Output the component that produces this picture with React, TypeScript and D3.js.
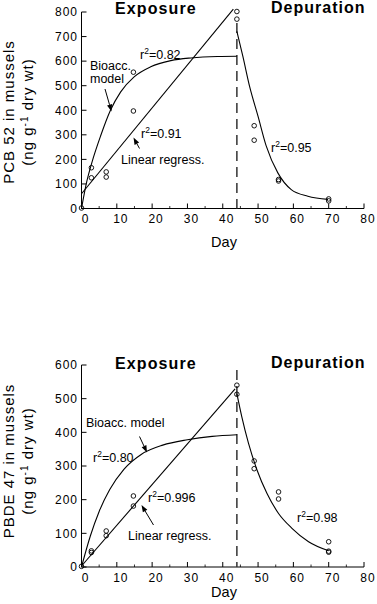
import React from "react";
import * as d3 from "d3";

// ---------- data ----------
const X_TICKS = [0, 10, 20, 30, 40, 50, 60, 70, 80];
const X_MINOR = [5, 15, 25, 35, 45, 55, 65, 75];
const PCB_TICKS = [0, 100, 200, 300, 400, 500, 600, 700, 800];
const PBDE_TICKS = [0, 100, 200, 300, 400, 500, 600];
const SWITCH_DAY = 44;

// PCB 52 measured points
const PCB_POINT_DAYS = [0, 2.8, 2.8, 7, 7, 14.7, 14.7, 44, 44, 48.9, 48.9, 55.8, 55.8, 70, 70];
const PCB_POINT_VALUES = [2, 166, 125, 149, 128, 555, 397, 802, 771, 337, 278, 118, 112, 39, 31];
// PCB 52 bioaccumulation model curve
const PCB_BIOACC_DAYS = [0, 1.5, 3, 5.4, 8.2, 11.1, 14.9, 19.6, 25.3, 31, 38.5, 44];
const PCB_BIOACC_VALUES = [0, 110, 190, 295, 400, 475, 536, 577, 602, 613, 619, 620];
// PCB 52 linear regression
const PCB_LINEAR_DAYS = [0, 43];
const PCB_LINEAR_VALUES = [60, 812];
// PCB 52 depuration curve
const PCB_DEP_DAYS = [44, 45.7, 47.6, 50, 52.3, 55.6, 59.4, 64.1, 69.8];
const PCB_DEP_VALUES = [721, 619, 497, 375, 255, 145, 77, 50, 37];

// PBDE 47 measured points
const PBDE_POINT_DAYS = [0, 2.8, 2.8, 7, 7, 14.7, 14.7, 44, 44, 48.9, 48.9, 55.8, 55.8, 70, 70, 70];
const PBDE_POINT_VALUES = [2, 48, 43, 107, 93, 211, 181, 540, 513, 315, 292, 223, 202, 75, 47, 44];
// PBDE 47 bioaccumulation model curve
const PBDE_BIOACC_DAYS = [0, 2.5, 5, 8, 12, 17, 23, 30, 37, 44];
const PBDE_BIOACC_VALUES = [0, 92, 165, 230, 290, 335, 362, 378, 388, 393];
// PBDE 47 linear regression
const PBDE_LINEAR_DAYS = [0, 43.5];
const PBDE_LINEAR_VALUES = [3, 529];
// PBDE 47 depuration curve
const PBDE_DEP_DAYS = [44, 45.4, 47.3, 49.7, 52.5, 55.8, 59.6, 64.3, 70];
const PBDE_DEP_VALUES = [515, 446, 367, 288, 219, 159, 115, 75, 48];

const FONT = "'Liberation Sans', Arial, Helvetica, sans-serif";

type Arrow = { x1: number; y1: number; x2: number; y2: number };
type Label = { x: number; y: number; text: string; r2?: string };

function ArrowMark({ a }: { a: Arrow }) {
  const ang = Math.atan2(a.y2 - a.y1, a.x2 - a.x1);
  const L = 7;
  const W = 2.6;
  const bx = a.x2 - L * Math.cos(ang);
  const by = a.y2 - L * Math.sin(ang);
  const px = -Math.sin(ang) * W;
  const py = Math.cos(ang) * W;
  return (
    <g>
      <line x1={a.x1} y1={a.y1} x2={bx} y2={by} stroke="#000" strokeWidth={1} />
      <polygon
        points={`${a.x2},${a.y2} ${bx + px},${by + py} ${bx - px},${by - py}`}
        fill="#000"
      />
    </g>
  );
}

function R2Text({ l }: { l: Label }) {
  return (
    <text x={l.x} y={l.y} fontSize={12.5} fontFamily={FONT}>
      r<tspan dy={-5} fontSize={8.5}>2</tspan>
      <tspan dy={5}>={l.r2}</tspan>
    </text>
  );
}

type PanelProps = {
  yTicks: number[];
  yTop: number;
  yBottom: number;
  pointDays: number[];
  pointValues: number[];
  bioDays: number[];
  bioValues: number[];
  linDays: number[];
  linValues: number[];
  depDays: number[];
  depValues: number[];
  title1: string;
  titleCenterY: number;
  exposureY: number;
  depurationY: number;
  dayY: number;
  tickLabelY: number;
  dashTop: number;
  texts: Label[];
  r2s: Label[];
  arrows: Arrow[];
};

function Panel(p: PanelProps) {
  const x = d3.scaleLinear().domain([0, 80]).range([81.5, 364]);
  const yMax = p.yTicks[p.yTicks.length - 1];
  const y = d3.scaleLinear().domain([0, yMax]).range([p.yBottom, p.yTop]);
  const line = d3
    .line<[number, number]>()
    .x((d) => x(d[0]))
    .y((d) => y(d[1]))
    .curve(d3.curveMonotoneX);
  const straight = d3
    .line<[number, number]>()
    .x((d) => x(d[0]))
    .y((d) => y(d[1]));
  const zip = (a: number[], b: number[]) => a.map((v, i) => [v, b[i]] as [number, number]);
  const x0 = x(0);
  return (
    <g fontFamily={FONT}>
      {/* y axis */}
      <line x1={x0} y1={y(yMax)} x2={x0} y2={y(0)} stroke="#000" strokeWidth={1} />
      {p.yTicks.map((t) => (
        <g key={"y" + t}>
          <line x1={x0} x2={x0 + 5} y1={y(t)} y2={y(t)} stroke="#000" strokeWidth={1} />
          <text
            x={78}
            y={y(t) + 4.3}
            textAnchor="end"
            fontSize={12}
            letterSpacing={1}
          >
            {t}
          </text>
        </g>
      ))}
      {/* x axis */}
      <line x1={x0} x2={x(80)} y1={y(0)} y2={y(0)} stroke="#000" strokeWidth={1} />
      {X_TICKS.map((t) => (
        <g key={"x" + t}>
          <line x1={x(t)} x2={x(t)} y1={y(0)} y2={y(0) - 5} stroke="#000" strokeWidth={1} />
          <text x={x(t) + 4} y={p.tickLabelY} textAnchor="middle" fontSize={12} letterSpacing={1}>
            {t}
          </text>
        </g>
      ))}
      {X_MINOR.map((t) => (
        <line key={"m" + t} x1={x(t)} x2={x(t)} y1={y(0)} y2={y(0) - 2.5} stroke="#000" strokeWidth={0.8} />
      ))}
      <text x={224} y={p.dayY} textAnchor="middle" fontSize={14.5}>
        Day
      </text>
      {/* y title */}
      <g transform={`translate(13.5, ${p.titleCenterY}) rotate(-90)`}>
        <text x={0} y={0} textAnchor="middle" fontSize={15} letterSpacing={1}>
          {p.title1}
        </text>
      </g>
      <g transform={`translate(33, ${p.titleCenterY}) rotate(-90)`}>
        <text x={0} y={0} textAnchor="middle" fontSize={15} letterSpacing={1}>
          (ng g<tspan dy={-5} fontSize={10}>-1</tspan>
          <tspan dy={5}> dry wt)</tspan>
        </text>
      </g>
      {/* section titles */}
      <text x={115} y={p.exposureY} fontSize={16} fontWeight="bold" letterSpacing={1.1}>
        Exposure
      </text>
      <text x={271} y={p.depurationY} fontSize={16} fontWeight="bold" letterSpacing={1}>
        Depuration
      </text>
      {/* dashed divider */}
      <line
        x1={x(SWITCH_DAY)}
        x2={x(SWITCH_DAY)}
        y1={p.dashTop}
        y2={y(0)}
        stroke="#333"
        strokeWidth={1.5}
        strokeDasharray="10,6"
      />
      {/* curves */}
      <path d={line(zip(p.bioDays, p.bioValues)) || ""} fill="none" stroke="#000" strokeWidth={1.1} />
      <path d={straight(zip(p.linDays, p.linValues)) || ""} fill="none" stroke="#000" strokeWidth={1.1} />
      <path d={line(zip(p.depDays, p.depValues)) || ""} fill="none" stroke="#000" strokeWidth={1.1} />
      {/* points */}
      {p.pointDays.map((d, i) => (
        <circle
          key={"p" + i}
          cx={x(d)}
          cy={y(p.pointValues[i])}
          r={2.3}
          fill="none"
          stroke="#000"
          strokeWidth={0.9}
        />
      ))}
      {/* annotations */}
      {p.texts.map((t, i) => (
        <text key={"t" + i} x={t.x} y={t.y} fontSize={12.5}>
          {t.text}
        </text>
      ))}
      {p.r2s.map((t, i) => (
        <R2Text key={"r" + i} l={t} />
      ))}
      {p.arrows.map((a, i) => (
        <ArrowMark key={"a" + i} a={a} />
      ))}
    </g>
  );
}

export default function App() {
  return (
    <div style={{ position: "absolute", left: 0, top: 0 }}>
      <svg width={377} height={604} style={{ display: "block", background: "#fff" }}>
        <Panel
          yTicks={PCB_TICKS}
          yTop={12}
          yBottom={208.5}
          pointDays={PCB_POINT_DAYS}
          pointValues={PCB_POINT_VALUES}
          bioDays={PCB_BIOACC_DAYS}
          bioValues={PCB_BIOACC_VALUES}
          linDays={PCB_LINEAR_DAYS}
          linValues={PCB_LINEAR_VALUES}
          depDays={PCB_DEP_DAYS}
          depValues={PCB_DEP_VALUES}
          title1="PCB 52 in mussels"
          titleCenterY={112}
          exposureY={14}
          depurationY={12.5}
          dayY={247}
          tickLabelY={223}
          dashTop={23}
          texts={[
            { x: 90, y: 69.5, text: "Bioacc." },
            { x: 90, y: 83, text: "model" },
            { x: 121, y: 164, text: "Linear regress." },
          ]}
          r2s={[
            { x: 140, y: 59, text: "", r2: "0.82" },
            { x: 141, y: 137.5, text: "", r2: "0.91" },
            { x: 271, y: 152, text: "", r2: "0.95" },
          ]}
          arrows={[
            { x1: 105, y1: 89, x2: 111.5, y2: 111.5 },
            { x1: 139.5, y1: 148.5, x2: 133.5, y2: 137.5 },
          ]}
        />
        <Panel
          yTicks={PBDE_TICKS}
          yTop={365}
          yBottom={567}
          pointDays={PBDE_POINT_DAYS}
          pointValues={PBDE_POINT_VALUES}
          bioDays={PBDE_BIOACC_DAYS}
          bioValues={PBDE_BIOACC_VALUES}
          linDays={PBDE_LINEAR_DAYS}
          linValues={PBDE_LINEAR_VALUES}
          depDays={PBDE_DEP_DAYS}
          depValues={PBDE_DEP_VALUES}
          title1="PBDE 47 in mussels"
          titleCenterY={461}
          exposureY={369}
          depurationY={368}
          dayY={597}
          tickLabelY={582}
          dashTop={370}
          texts={[
            { x: 86, y: 426.5, text: "Bioacc. model" },
            { x: 128, y: 540, text: "Linear regress." },
          ]}
          r2s={[
            { x: 93, y: 461.5, text: "", r2: "0.80" },
            { x: 148, y: 501.5, text: "", r2: "0.996" },
            { x: 297, y: 521.5, text: "", r2: "0.98" },
          ]}
          arrows={[
            { x1: 139.5, y1: 436.5, x2: 147, y2: 452.5 },
            { x1: 153.5, y1: 525, x2: 141.5, y2: 505 },
          ]}
        />
      </svg>
    </div>
  );
}
